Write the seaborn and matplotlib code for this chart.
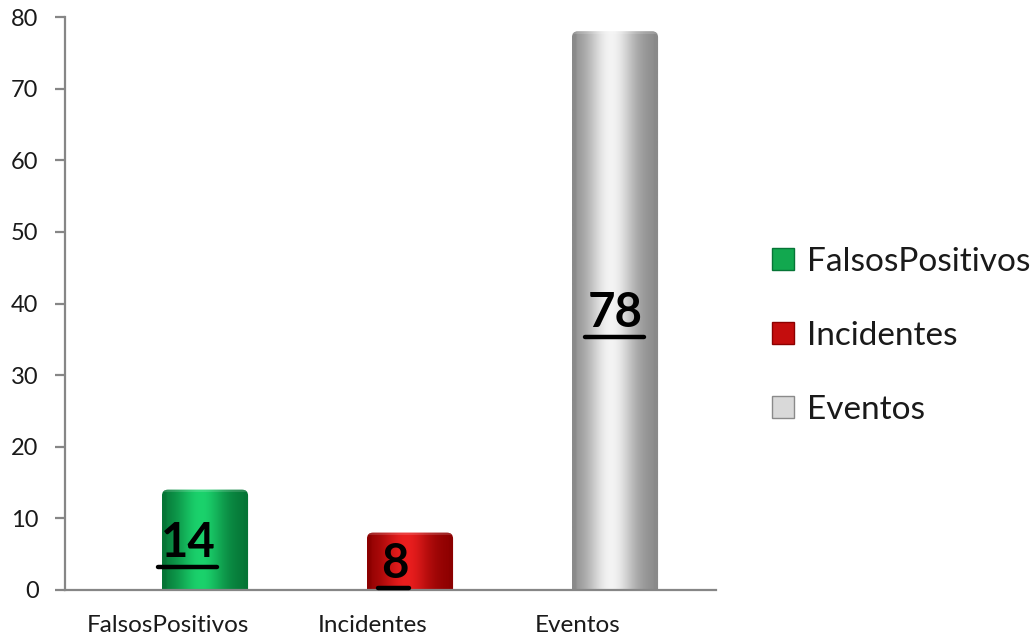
import numpy as np
import pandas as pd
import matplotlib
matplotlib.use("Agg")
import matplotlib.pyplot as plt
import seaborn as sns
from matplotlib.patches import Patch, PathPatch
from matplotlib.path import Path
from matplotlib.lines import Line2D
from matplotlib.colors import to_rgb

# ---- data ----
categories = ["FalsosPositivos", "Incidentes", "Eventos"]
series = ["FalsosPositivos", "Incidentes", "Eventos"]
values = [14, 8, 78]
y_ticks = [0, 10, 20, 30, 40, 50, 60, 70, 80]

# ---- style ----
dark_cols = ["#067536", "#8c0000", "#8a8a8a"]
light_cols = ["#1bd26c", "#ea1e1e", "#f4f4f4"]
legend_cols = ["#12a84f", "#c40d0d", "#d9d9d9"]
label_dx_pt = [-12, -11, 0]
bar_offset = 0.183
bar_width = 0.42
axis_grey = "#868686"
text_col = "#1a1a1a"

sns.set_theme(style="white")
plt.rcParams["font.family"] = ["Lato", "DejaVu Sans"]

df = pd.DataFrame({"category": categories, "series": series, "value": values})

fig = plt.figure(figsize=(10.31, 6.39), dpi=100)
ax = fig.add_axes([65 / 1031, 49 / 639, (716 - 65) / 1031, 573 / 639])

sns.barplot(data=df, x="category", y="value", hue="series", dodge=False,
            palette=legend_cols, width=bar_width, ax=ax, legend=False,
            linewidth=0, saturation=1)

ax.set_xlim(-0.5, (716 - 65) / 205 - 0.5)
ax.set_ylim(0, 80)

# shift bars and paint cylinder gradient, clipped to a rounded-top outline
t = np.linspace(0, 1, 256)
prof = np.exp(-((t - 0.45) / 0.28) ** 2)
edge = np.clip(1 - np.minimum(t, 1 - t) / 0.06, 0, 1)
prof = np.clip(prof - 0.35 * edge, 0, 1)
bars = list(ax.patches)[:len(values)]
rx = 6 / 205.0   # corner radius in data units (x)
ry = 6 / 7.1625  # corner radius in data units (y)
for i, p in enumerate(bars):
    p.set_x(p.get_x() + bar_offset)
    d = np.array(to_rgb(dark_cols[i]))
    l = np.array(to_rgb(light_cols[i]))
    img = d[None, :] * (1 - prof[:, None]) + l[None, :] * prof[:, None]
    img = np.clip(img, 0, 1)[None, :, :]
    x0 = p.get_x()
    x1 = x0 + p.get_width()
    h = p.get_height()
    verts = [(x0, 0), (x0, h - ry), (x0, h), (x0 + rx, h), (x1 - rx, h),
             (x1, h), (x1, h - ry), (x1, 0), (x0, 0)]
    codes = [Path.MOVETO, Path.LINETO, Path.CURVE3, Path.CURVE3, Path.LINETO,
             Path.CURVE3, Path.CURVE3, Path.LINETO, Path.CLOSEPOLY]
    clip = PathPatch(Path(verts, codes), transform=ax.transData,
                     facecolor="none", edgecolor="none")
    ax.add_patch(clip)
    p.set_visible(False)
    im = ax.imshow(img, extent=(x0, x1, 0, h), aspect="auto", zorder=2,
                   interpolation="bicubic")
    im.set_clip_path(clip)
    # subtle lighter cap at the top of the cylinder
    cap = np.clip(img * 0.75 + 0.25, 0, 1)
    im2 = ax.imshow(cap, extent=(x0, x1, h - 0.45 * ry, h), aspect="auto",
                    zorder=3, interpolation="bicubic", alpha=0.6)
    im2.set_clip_path(clip)

ax.set_xlim(-0.5, (716 - 65) / 205 - 0.5)
ax.set_ylim(0, 80)

# axes styling
for s in ["top", "right"]:
    ax.spines[s].set_visible(False)
for s in ["left", "bottom"]:
    ax.spines[s].set_color(axis_grey)
    ax.spines[s].set_linewidth(1.6)
ax.set_xlabel("")
ax.set_ylabel("")
ax.set_yticks(y_ticks)
ax.set_yticklabels([str(v) for v in y_ticks])
ax.set_xticks(range(len(categories)))
ax.set_xticklabels(categories)
ax.set_xticks([i - 0.5 for i in range(len(categories) + 1)], minor=True)
ax.tick_params(axis="x", which="major", length=0, pad=18, labelsize=17.5, labelcolor=text_col)
ax.tick_params(axis="x", which="minor", length=8, width=1.6, color=axis_grey, direction="out")
ax.tick_params(axis="y", length=7, width=1.6, color=axis_grey, direction="out",
               pad=12, labelsize=17, labelcolor=text_col, left=True)

# value labels
texts = []
for i, p in enumerate(bars):
    cx = p.get_x() + p.get_width() / 2
    txt = ax.annotate(str(values[i]), xy=(cx, values[i] / 2), xytext=(label_dx_pt[i], -2),
                      textcoords="offset points", ha="center", va="center",
                      fontsize=34, fontweight="bold", color="black", zorder=5)
    texts.append(txt)

fig.canvas.draw()
renderer = fig.canvas.get_renderer()
for txt in texts:
    bb = txt.get_window_extent(renderer)
    y = bb.y0 - 2
    fig.add_artist(Line2D([bb.x0 - 3, bb.x1 + 1], [y, y], transform=None,
                          color="black", linewidth=3.2, zorder=6))

# legend
handles = [Patch(facecolor=legend_cols[i], edgecolor=dark_cols[i], linewidth=1.0, label=series[i])
           for i in range(len(series))]
fig.legend(handles=handles, loc="center left", bbox_to_anchor=(772 / 1031, 303 / 639),
           frameon=False, fontsize=24, handlelength=0.65, handleheight=0.65,
           handletextpad=0.4, labelspacing=1.32, borderpad=0, borderaxespad=0,
           labelcolor=text_col)

fig.savefig("out.png", dpi=100)
